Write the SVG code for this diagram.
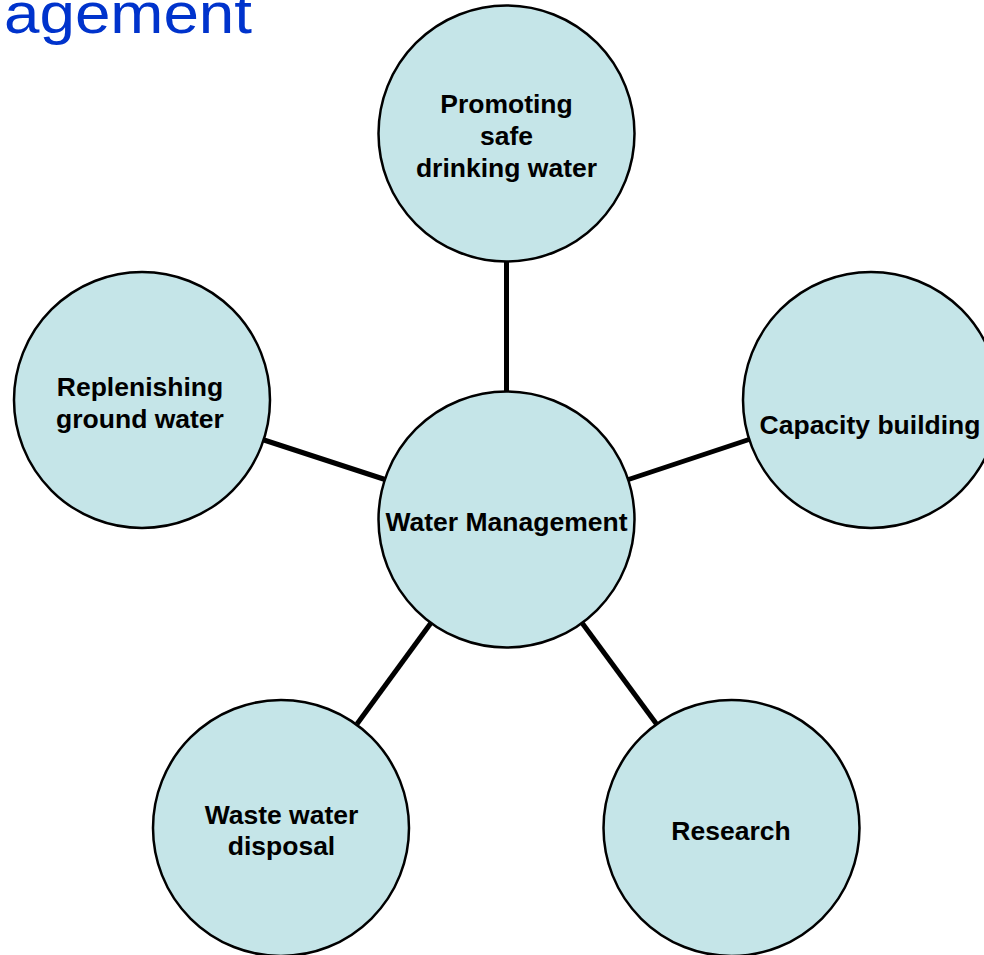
<svg xmlns="http://www.w3.org/2000/svg" width="984" height="955" viewBox="0 0 984 955">
<style>
.node circle{fill:#C5E5E8;stroke:#000;stroke-width:2.5}
.node text{font-family:"Liberation Sans",Arial,sans-serif;font-weight:bold;font-size:26.5px;fill:#000;text-anchor:middle}
.conn line{stroke:#000;stroke-width:5}
.title{font-family:"Liberation Sans",Arial,sans-serif;font-size:57px;fill:#0033CC}
</style>
<rect width="984" height="955" fill="#fff"/>
<text class="title" x="4" y="33" textLength="248" lengthAdjust="spacingAndGlyphs">agement</text>
<g id="connectors" class="conn">
<line x1="506.5" y1="262" x2="506.5" y2="391"/>
<line x1="264" y1="440" x2="385" y2="479.5"/>
<line x1="749" y1="439.5" x2="628.5" y2="479.5"/>
<line x1="430.7" y1="623.2" x2="357" y2="724"/>
<line x1="582.3" y1="623.2" x2="656.5" y2="724"/>
</g>
<g id="node-center" class="node">
<circle cx="506.5" cy="519.5" r="128"/>
<text x="506.5" y="531">Water Management</text>
</g>
<g id="node-top" class="node">
<circle cx="506.5" cy="133.5" r="128"/>
<text x="506.5" y="113">Promoting</text>
<text x="506.5" y="145">safe</text>
<text x="506.5" y="177">drinking water</text>
</g>
<g id="node-left" class="node">
<circle cx="142" cy="400" r="128"/>
<text x="140" y="396">Replenishing</text>
<text x="140" y="428">ground water</text>
</g>
<g id="node-right" class="node">
<circle cx="871" cy="400" r="128"/>
<text x="870" y="434">Capacity building</text>
</g>
<g id="node-bottom-left" class="node">
<circle cx="281" cy="828" r="128"/>
<text x="281.5" y="824">Waste water</text>
<text x="281.5" y="855">disposal</text>
</g>
<g id="node-bottom-right" class="node">
<circle cx="731.5" cy="828" r="128"/>
<text x="731" y="840">Research</text>
</g>
</svg>
